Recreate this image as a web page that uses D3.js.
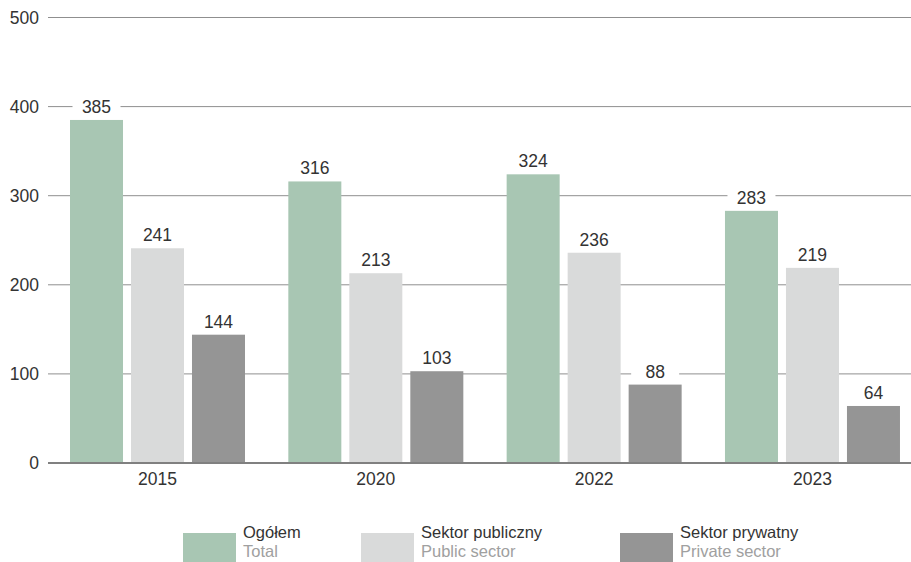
<!DOCTYPE html>
<html><head><meta charset="utf-8">
<script src="https://cdn.jsdelivr.net/npm/d3@7"></script>
<style>
html,body{margin:0;padding:0;background:#fff;}
svg{display:block;font-family:"Liberation Sans",Arial,sans-serif;}
</style></head>
<body>
<svg id="chart" width="911" height="562"></svg>
<script>
const years = ["2015", "2020", "2022", "2023"];
const seriesPl = ["Ogółem", "Sektor publiczny", "Sektor prywatny"];
const seriesEn = ["Total", "Public sector", "Private sector"];
const totalValues = [385, 316, 324, 283];
const publicValues = [241, 213, 236, 219];
const privateValues = [144, 103, 88, 64];
const yTicks = [0, 100, 200, 300, 400, 500];
const colors = ["#a8c6b3", "#d9dada", "#959595"];

const FS = 17.5;
const LFS = 16.5;
const seriesValues = [totalValues, publicValues, privateValues];
const svg = d3.select("#chart");

const y = d3.scaleLinear().domain([0, 500]).range([463, 17.5]);
const x0 = d3.scaleBand().domain(years).range([48, 921.3]).padding(0);
const x1 = d3.scaleBand().domain(d3.range(3)).range([22, 197]).paddingInner(0.131).paddingOuter(0);

// gridlines
svg.append("g").selectAll("line").data(yTicks.filter(t => t > 0)).join("line")
  .attr("x1", 48).attr("x2", 911)
  .attr("y1", d => y(d)).attr("y2", d => y(d))
  .attr("stroke", "#8f8f8f").attr("stroke-width", 1);

// y axis labels
const yAxis = d3.axisLeft(y).tickValues(yTicks).tickSize(0).tickPadding(0);
const yg = svg.append("g").attr("transform", "translate(39,0)").call(yAxis);
yg.select(".domain").remove();
yg.selectAll("text").attr("font-size", FS).attr("fill", "#333")
  .attr("font-family", "'Liberation Sans',Arial,sans-serif");

// bars
const groups = svg.append("g").selectAll("g").data(years).join("g")
  .attr("transform", d => `translate(${x0(d)},0)`);
groups.selectAll("rect").data((d, i) => seriesValues.map((vals, s) => ({s, v: vals[i]})))
  .join("rect")
  .attr("x", d => x1(d.s)).attr("width", x1.bandwidth())
  .attr("y", d => y(d.v)).attr("height", d => y(0) - y(d.v))
  .attr("fill", d => colors[d.s]);

// value labels
const lab = groups.selectAll("g.lab").data((d, i) => seriesValues.map((vals, s) => ({s, v: vals[i]})))
  .join("g").attr("class", "lab");
lab.append("rect")
  .attr("x", d => x1(d.s) + x1.bandwidth() / 2 - 24).attr("width", 48)
  .attr("y", d => y(d.v) - 25).attr("height", 21)
  .attr("fill", "#fff");
lab.append("text")
  .attr("x", d => x1(d.s) + x1.bandwidth() / 2)
  .attr("y", d => y(d.v) - 7)
  .attr("text-anchor", "middle").attr("font-size", FS).attr("fill", "#333")
  .text(d => d.v);

// x axis line
svg.append("line").attr("x1", 48).attr("x2", 911).attr("y1", y(0)).attr("y2", y(0))
  .attr("stroke", "#808080").attr("stroke-width", 2);

// x labels
svg.append("g").selectAll("text").data(years).join("text")
  .attr("x", d => x0(d) + (x1.range()[0] + x1.range()[1]) / 2)
  .attr("y", 485)
  .attr("text-anchor", "middle").attr("font-size", FS).attr("fill", "#333")
  .text(d => d);

// legend
const legendX = [183, 361, 620];
const lg = svg.append("g").selectAll("g").data(seriesPl).join("g")
  .attr("transform", (d, i) => `translate(${legendX[i]},0)`);
lg.append("rect").attr("x", 0).attr("y", 533).attr("width", 53).attr("height", 30)
  .attr("fill", (d, i) => colors[i]);
lg.append("text").attr("x", 60).attr("y", 538).attr("font-size", LFS).attr("fill", "#333")
  .text(d => d);
lg.append("text").attr("x", 60).attr("y", 557).attr("font-size", LFS).attr("fill", "#a0a0a0")
  .text((d, i) => seriesEn[i]);
</script>
</body></html>
